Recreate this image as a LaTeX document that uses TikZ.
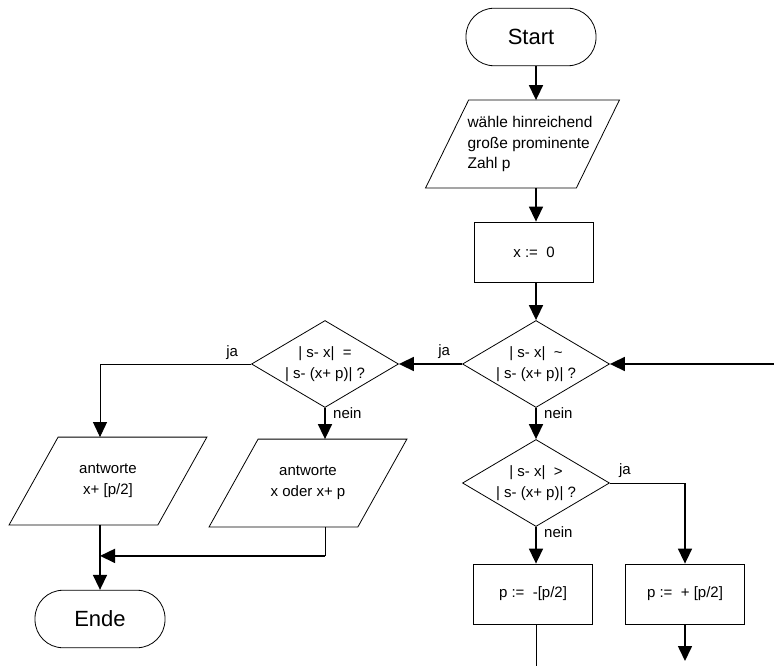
\documentclass[tikz,border=0pt]{standalone}
\usepackage{fontspec}
\setmainfont{Liberation Sans}
\usetikzlibrary{arrows.meta,shapes.geometric}
\tikzset{
  flow/.style={draw, line width=0.8pt, inner sep=0pt, align=center,
    font=\fontsize{15}{21}\selectfont},
  terminal/.style={flow, rounded corners=28pt, minimum width=130pt,
    minimum height=57.5pt, font=\fontsize{22}{26}\selectfont},
  process/.style={flow, rectangle, minimum width=119pt, minimum height=60pt},
  decision/.style={flow, diamond, aspect=2, inner sep=-8pt,
    minimum width=147pt, minimum height=87pt},
  io/.style={flow, draw=none, rectangle, minimum width=150pt, minimum height=87pt},
  arr/.style={-{Triangle[length=15pt,width=14pt]}, line width=1.6pt},
  thinarr/.style={arr, line width=0.9pt},
  thinline/.style={line width=0.9pt},
  lbl/.style={inner sep=0pt, font=\fontsize{15}{16}\selectfont}
}
\newcommand\slantbox[3]{%
  \draw[line width=0.8pt] ([xshift=#2]#1.north west) -- ([xshift=#2]#1.north east)
    -- ([xshift=#3]#1.south east) -- ([xshift=#3]#1.south west) -- cycle;}

\begin{document}
\begin{tikzpicture}[x=1pt,y=-1pt]
  \useasboundingbox (0,0) rectangle (774,666);
  \node[terminal] (start) at (531,37) {Start};
  \node[io, align=left, font=\fontsize{15.5}{20.5}\selectfont] (wahl) at (530,144)
    {wähle hinreichend\\große prominente\\Zahl p};
  \node[process] (init) at (534,252) {x :=~~0};
  \node[decision] (near) at (536,364) {| s- x|~~\textasciitilde\\| s- (x+ p)| ?};
  \node[decision] (equal) at (325,364) {| s- x|~~=\\| s- (x+ p)| ?};
  \node[decision] (greater) at (536,483) {| s- x|~~>\\| s- (x+ p)| ?};
  \node[io, minimum width=148pt] (half) at (108,481) {antworte\\x+ [p/2]};
  \node[io, minimum width=148pt] (either) at (308,483) {antworte\\x oder x+ p};
  \node[terminal] (ende) at (100,619) {Ende};
  \node[process] (down) at (533,594) {p :=~~-[p/2]};
  \node[process] (up) at (685,594) {p :=~~+ [p/2]};
  \slantbox{wahl}{14pt}{-29pt}
  \slantbox{half}{24.5pt}{-24.5pt}
  \slantbox{either}{24.5pt}{-24.5pt}
  \coordinate (back) at (774,364);
  \coordinate (exitL) at (536,666);
  \coordinate (exitR) at (685,661);

  \node[lbl] (ja1) at ([xshift=-18pt,yshift=12pt]near.west) {ja};
  \node[lbl, anchor=west] (nein1) at ([xshift=8pt,yshift=-5pt]near.south) {nein};
  \node[lbl] (ja2) at ([xshift=-19pt,yshift=11pt]equal.west) {ja};
  \node[lbl, anchor=west] (nein2) at ([xshift=8pt,yshift=-5pt]equal.south) {nein};
  \node[lbl] (ja3) at ([xshift=15pt,yshift=12pt]greater.east) {ja};
  \node[lbl, anchor=west] (nein3) at ([xshift=8pt,yshift=-5pt]greater.south) {nein};

  \draw[arr] (start.south -| near) -- (near |- wahl.north);
  \draw[arr] (near |- wahl.south) -- (near |- init.north);
  \draw[arr] (near |- init.south) -- (near);
  \draw[arr] (back) -- (near.east);
  \draw[arr] (near.west) -- (equal.east);
  \draw[arr] (near) -- (greater);
  \draw[thinarr] (equal.west) -| (ende |- half.north);
  \draw[arr] (equal) -- (equal |- either.north);
  \draw[arr] (half.south -| ende) -- (ende);
  \draw[thinline] (either.south -| equal) -- ++(0,29) coordinate (merge);
  \draw[arr] (merge) -- (merge -| ende);
  \draw[thinline] (greater.east) -- (greater.east -| up);
  \draw[arr] (greater.east -| up) -- (up);
  \draw[arr] (greater) -- (greater |- down.north);
  \draw[thinline] (greater |- down.south) -- (exitL);
  \draw[arr] (up) -- (exitR);
\end{tikzpicture}
\end{document}
